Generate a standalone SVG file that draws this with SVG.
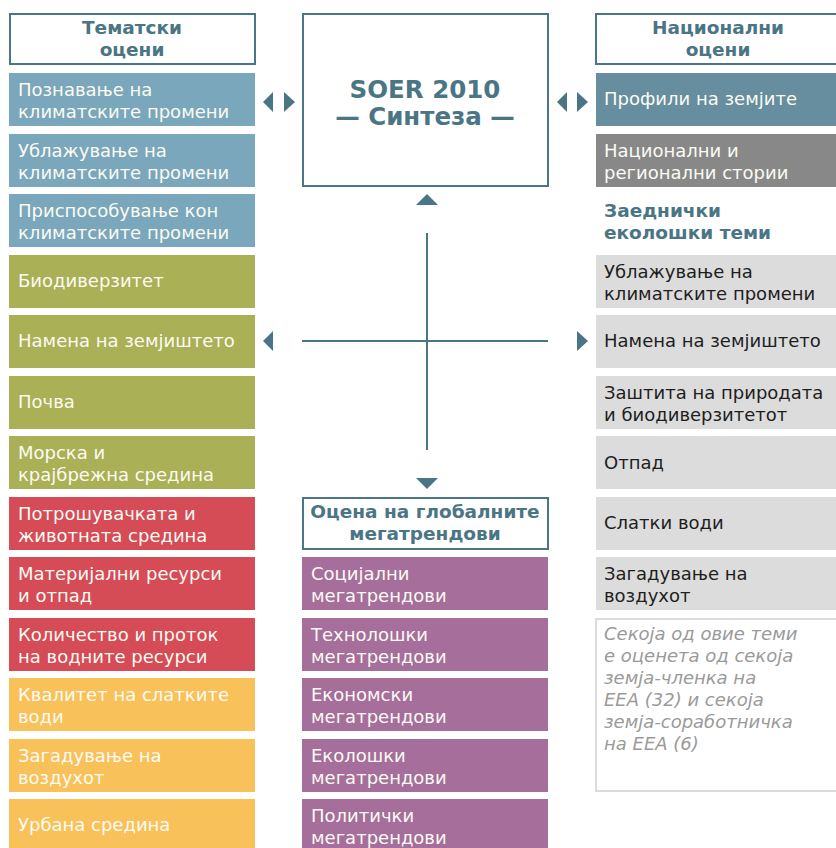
<svg xmlns="http://www.w3.org/2000/svg" width="836" height="848" viewBox="0 0 836 848">
<style>
text{font-family:"DejaVu Sans","Liberation Sans",sans-serif;font-size:18px}
.lt{fill:#fbfbf3}
.dk{fill:#1e1e1e}
.hd{fill:#4a7585;font-weight:bold;text-anchor:middle;font-size:18.5px}
.hb{fill:#fff;stroke:#4a7585;stroke-width:2}
.bl{fill:#7aa7bb}.ol{fill:#aab055}.rd{fill:#d54b56}.ye{fill:#f8c15a}.pu{fill:#a66e9b}
.pr{fill:#668e9e}.gr{fill:#888888}.lg{fill:#dcdcdc}
.ar{fill:#4a7585}
.ln{stroke:#4a7585;stroke-width:2;fill:none}
.note{fill:#9a9a9a;font-style:italic}
</style>
<g id="header-thematic">
<rect class="hb" x="10" y="14" width="245" height="50"/>
<text class="hd" x="132" y="34">Тематски</text>
<text class="hd" x="132" y="56">оцени</text>
</g>
<g id="header-synthesis">
<rect class="hb" x="303" y="14" width="245" height="172"/>
<text class="hd" x="425" y="98" style="font-size:24.5px">SOER 2010</text>
<text class="hd" x="425" y="125" style="font-size:24.5px">— Синтеза —</text>
</g>
<g id="header-national">
<rect class="hb" x="596" y="14" width="245" height="50"/>
<text class="hd" x="718" y="34">Национални</text>
<text class="hd" x="718" y="56">оцени</text>
</g>
<g id="header-megatrends">
<rect class="hb" x="303" y="498" width="245" height="51"/>
<text class="hd" x="425" y="518">Оцена на глобалните</text>
<text class="hd" x="425" y="540">мегатрендови</text>
</g>
<g id="t1"><rect class="bl" x="9" y="73" width="246" height="53"/><text class="lt" x="18" y="96">Познавање на</text><text class="lt" x="18" y="118">климатските промени</text></g>
<g id="t2"><rect class="bl" x="9" y="134" width="246" height="53"/><text class="lt" x="18" y="157">Ублажување на</text><text class="lt" x="18" y="179">климатските промени</text></g>
<g id="t3"><rect class="bl" x="9" y="194" width="246" height="53"/><text class="lt" x="18" y="217">Приспособување кон</text><text class="lt" x="18" y="239">климатските промени</text></g>
<g id="t4"><rect class="ol" x="9" y="255" width="246" height="53"/><text class="lt" x="18" y="287">Биодиверзитет</text></g>
<g id="t5"><rect class="ol" x="9" y="315" width="246" height="53"/><text class="lt" x="18" y="347">Намена на земјиштето</text></g>
<g id="t6"><rect class="ol" x="9" y="376" width="246" height="53"/><text class="lt" x="18" y="408">Почва</text></g>
<g id="t7"><rect class="ol" x="9" y="436" width="246" height="53"/><text class="lt" x="18" y="459">Морска и</text><text class="lt" x="18" y="481">крајбрежна средина</text></g>
<g id="t8"><rect class="rd" x="9" y="497" width="246" height="53"/><text class="lt" x="18" y="520">Потрошувачката и</text><text class="lt" x="18" y="542">животната средина</text></g>
<g id="t9"><rect class="rd" x="9" y="557" width="246" height="53"/><text class="lt" x="18" y="580">Материјални ресурси</text><text class="lt" x="18" y="602">и отпад</text></g>
<g id="t10"><rect class="rd" x="9" y="618" width="246" height="53"/><text class="lt" x="18" y="641">Количество и проток</text><text class="lt" x="18" y="663">на водните ресурси</text></g>
<g id="t11"><rect class="ye" x="9" y="678" width="246" height="53"/><text class="lt" x="18" y="701">Квалитет на слатките</text><text class="lt" x="18" y="723">води</text></g>
<g id="t12"><rect class="ye" x="9" y="739" width="246" height="53"/><text class="lt" x="18" y="762">Загадување на</text><text class="lt" x="18" y="784">воздухот</text></g>
<g id="t13"><rect class="ye" x="9" y="799" width="246" height="53"/><text class="lt" x="18" y="831">Урбана средина</text></g>
<g id="m1"><rect class="pu" x="302" y="557" width="246" height="53"/><text class="lt" x="311" y="580">Социјални</text><text class="lt" x="311" y="602">мегатрендови</text></g>
<g id="m2"><rect class="pu" x="302" y="618" width="246" height="53"/><text class="lt" x="311" y="641">Технолошки</text><text class="lt" x="311" y="663">мегатрендови</text></g>
<g id="m3"><rect class="pu" x="302" y="678" width="246" height="53"/><text class="lt" x="311" y="701">Економски</text><text class="lt" x="311" y="723">мегатрендови</text></g>
<g id="m4"><rect class="pu" x="302" y="739" width="246" height="53"/><text class="lt" x="311" y="762">Еколошки</text><text class="lt" x="311" y="784">мегатрендови</text></g>
<g id="m5"><rect class="pu" x="302" y="799" width="246" height="53"/><text class="lt" x="311" y="822">Политички</text><text class="lt" x="311" y="844">мегатрендови</text></g>
<g id="n1"><rect class="pr" x="596" y="73" width="245" height="53"/><text class="lt" x="604" y="105">Профили на земјите</text></g>
<g id="n2"><rect class="gr" x="596" y="134" width="245" height="53"/><text class="lt" x="604" y="157">Национални и</text><text class="lt" x="604" y="179">регионални стории</text></g>
<g id="n3"><text class="hd" style="text-anchor:start" x="604" y="217">Заеднички</text><text class="hd" style="text-anchor:start" x="604" y="239">еколошки теми</text></g>
<g id="n4"><rect class="lg" x="596" y="255" width="245" height="53"/><text class="dk" x="604" y="278">Ублажување на</text><text class="dk" x="604" y="300">климатските промени</text></g>
<g id="n5"><rect class="lg" x="596" y="315" width="245" height="53"/><text class="dk" x="604" y="347">Намена на земјиштето</text></g>
<g id="n6"><rect class="lg" x="596" y="376" width="245" height="53"/><text class="dk" x="604" y="399">Заштита на природата</text><text class="dk" x="604" y="421">и биодиверзитетот</text></g>
<g id="n7"><rect class="lg" x="596" y="436" width="245" height="53"/><text class="dk" x="604" y="469">Отпад</text></g>
<g id="n8"><rect class="lg" x="596" y="497" width="245" height="53"/><text class="dk" x="604" y="529">Слатки води</text></g>
<g id="n9"><rect class="lg" x="596" y="557" width="245" height="53"/><text class="dk" x="604" y="580">Загадување на</text><text class="dk" x="604" y="602">воздухот</text></g>
<g id="note">
<rect x="596" y="619" width="245" height="172" fill="#fff" stroke="#dcdcdc" stroke-width="2"/>
<text class="note" x="604" y="640">Секоја од овие теми</text>
<text class="note" x="604" y="662">е оценета од секоја</text>
<text class="note" x="604" y="684">земја-членка на</text>
<text class="note" x="604" y="706">EEA (32) и секоја</text>
<text class="note" x="604" y="728">земја-соработничка</text>
<text class="note" x="604" y="750">на EEA (6)</text>
</g>
<g id="connectors">
<line class="ln" x1="427" y1="233" x2="427" y2="450"/>
<line class="ln" x1="302" y1="341" x2="548" y2="341"/>
<polygon class="ar" points="263,102 273,92 273,112"/>
<polygon class="ar" points="295,102 284,92 284,112"/>
<polygon class="ar" points="557,102 567,92 567,112"/>
<polygon class="ar" points="588,102 577,92 577,112"/>
<polygon class="ar" points="263,341 273,331 273,351"/>
<polygon class="ar" points="588,341 577,331 577,351"/>
<polygon class="ar" points="427,194 416,205 438,205"/>
<polygon class="ar" points="427,489 416,478 438,478"/>
</g>
</svg>
